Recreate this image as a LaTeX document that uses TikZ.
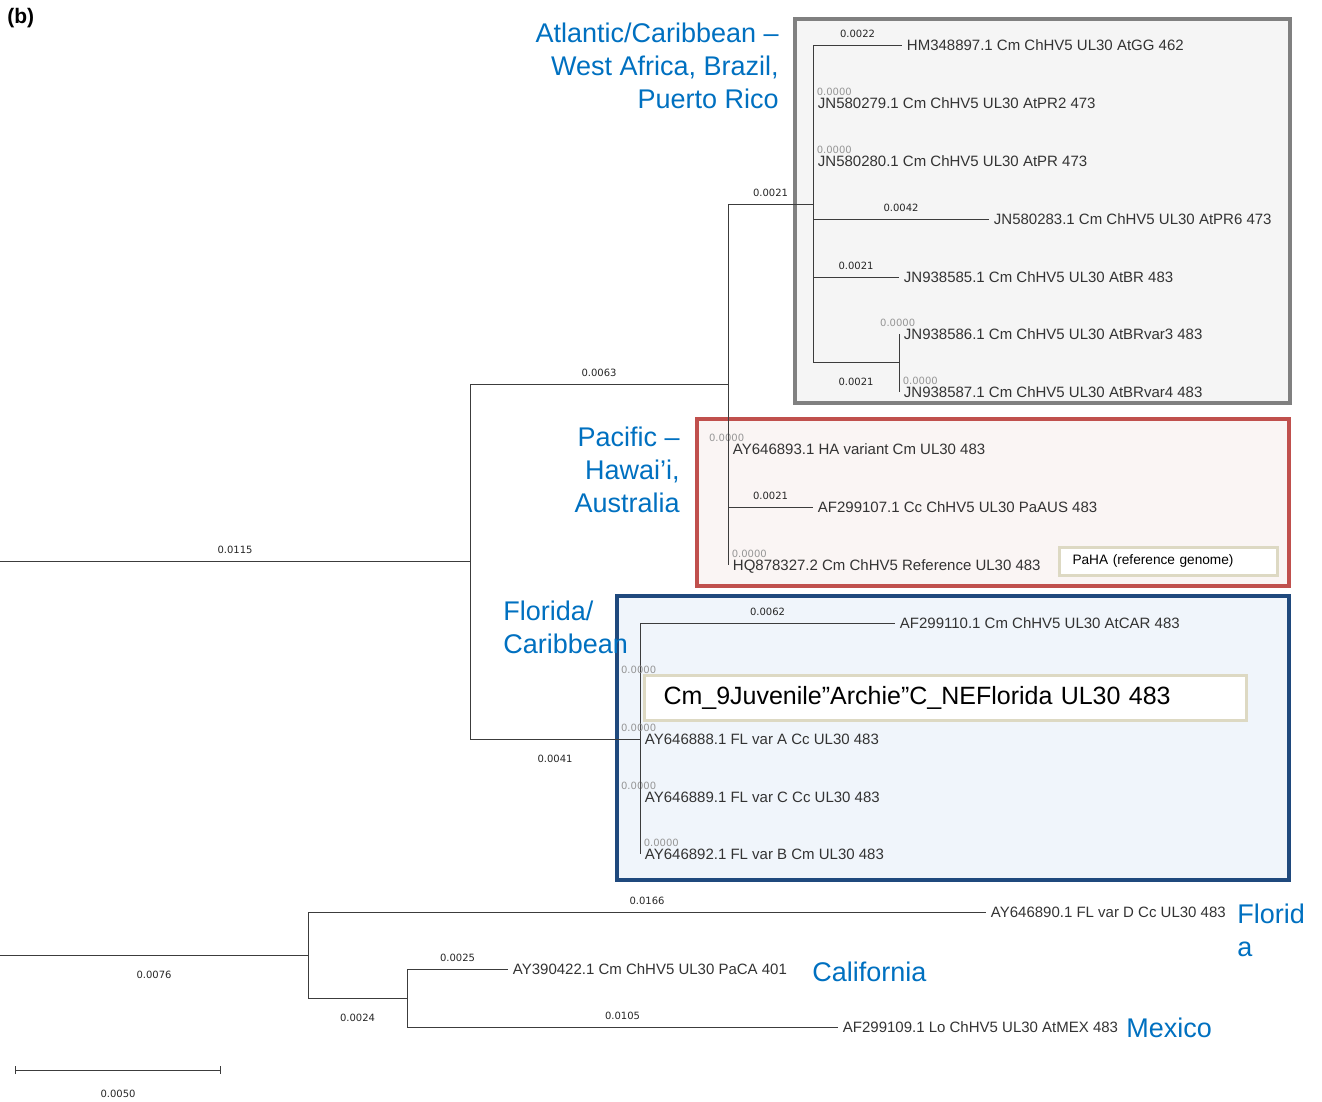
\documentclass[tikz,border=0pt]{standalone}
\usepackage{fontspec}
\setmainfont{Liberation Sans}
\newfontfamily\numfont{DejaVu Sans}
\usetikzlibrary{arrows.meta,positioning}
\definecolor{treeline}{RGB}{60,60,60}
\definecolor{zerogrey}{RGB}{150,150,150}
\definecolor{atlfill}{RGB}{245,245,245}
\definecolor{atlframe}{RGB}{128,128,128}
\definecolor{pacfill}{RGB}{250,245,244}
\definecolor{pacframe}{RGB}{192,80,77}
\definecolor{flafill}{RGB}{240,245,251}
\definecolor{flaframe}{RGB}{31,73,125}
\definecolor{tagframe}{RGB}{221,217,195}
\definecolor{regionblue}{RGB}{0,112,192}

\begin{document}
\begin{tikzpicture}[x=0.75pt, y=-0.75pt,
  br/.style={draw=treeline, line width=0.7pt},
  leaf/.style={anchor=west, inner xsep=3.5pt, inner ysep=0pt, text height=8pt, text depth=0pt,
    font=\fontsize{11.25}{13}\selectfont, text=black!80},
  blen/.style={font=\numfont\fontsize{7.5}{9}\selectfont, text=black!85, inner sep=0pt},
  zero/.style={blen, text=zerogrey, anchor=south west, yshift=5.5pt},
  zr/.style={zero, xshift=2.5pt},
  zl/.style={zero, xshift=-14.5pt},
  region/.style={font=\fontsize{20.25}{24.75}\selectfont, text=regionblue, inner sep=0pt},
  tag/.style={draw=tagframe, fill=white, line width=2.25pt, anchor=west, align=left, text=black}]
\useasboundingbox (0,0) rectangle (1322,1102);
\draw[atlframe, fill=atlfill, line width=3pt] (795,19) rectangle (1290,403);
\draw[pacframe, fill=pacfill, line width=3pt] (697,419) rectangle (1289,586);
\draw[flaframe, fill=flafill, line width=3pt] (617,596) rectangle (1289,880);
\node[anchor=west, inner sep=0pt, font=\bfseries\fontsize{15.75}{18}\selectfont] (panel) at (7,18) {(b)};

\coordinate (root1) at (0,561);
\coordinate (n1) at (470,561);
\coordinate (n2) at (728,384);
\coordinate (n3) at (813,204);
\coordinate (n4) at (899,362);
\coordinate (n5) at (640,739);
\coordinate (cmtip) at (640,681);
\coordinate (root2) at (0,955);
\coordinate (n6) at (308,955);
\coordinate (n7) at (407,998);

\node[leaf] (hm) at (902,45) {HM348897.1 Cm ChHV5 UL30 AtGG 462};
\node[leaf] (jnb) at (813,103) {JN580279.1 Cm ChHV5 UL30 AtPR2 473};
\node[leaf] (jnc) at (813,161) {JN580280.1 Cm ChHV5 UL30 AtPR 473};
\node[leaf] (jnd) at (989,219) {JN580283.1 Cm ChHV5 UL30 AtPR6 473};
\node[leaf] (jne) at (899,277) {JN938585.1 Cm ChHV5 UL30 AtBR 483};
\node[leaf] (jnf) at (899,334) {JN938586.1 Cm ChHV5 UL30 AtBRvar3 483};
\node[leaf] (jng) at (899,392) {JN938587.1 Cm ChHV5 UL30 AtBRvar4 483};
\node[leaf] (ha) at (728,449) {AY646893.1 HA variant Cm UL30 483};
\node[leaf] (aus) at (813,507) {AF299107.1 Cc ChHV5 UL30 PaAUS 483};
\node[leaf] (ref) at (728,565) {HQ878327.2 Cm ChHV5 Reference UL30 483};
\node[leaf] (car) at (895,623) {AF299110.1 Cm ChHV5 UL30 AtCAR 483};
\node[leaf] (flA) at (640,739) {AY646888.1 FL var A Cc UL30 483};
\node[leaf] (flC) at (640,797) {AY646889.1 FL var C Cc UL30 483};
\node[leaf] (flB) at (640,854) {AY646892.1 FL var B Cm UL30 483};
\node[leaf] (flD) at (986,912) {AY646890.1 FL var D Cc UL30 483};
\node[leaf] (paca) at (508,969) {AY390422.1 Cm ChHV5 UL30 PaCA 401};
\node[leaf] (mex) at (838,1027) {AF299109.1 Lo ChHV5 UL30 AtMEX 483};

\draw[br] (root1) -- (n1) node[blen, midway, above=5.5pt] {0.0115};
\draw[br] (n1) |- (n2) node[blen, pos=.75, above=5.5pt] {0.0063};
\draw[br] (n1) |- (n5) node[blen, pos=.75, below=12pt] {0.0041};
\draw[br] (n2) |- (n3) node[blen, pos=.75, above=5.5pt] {0.0021};
\draw[br] (n3) |- (hm.west) node[blen, pos=.75, above=5.5pt] {0.0022};
\draw[br] (n3) |- (jnb.west) node[zr] {0.0000};
\draw[br] (n3) |- (jnc.west) node[zr] {0.0000};
\draw[br] (n3) |- (jnd.west) node[blen, pos=.75, above=5.5pt] {0.0042};
\draw[br] (n3) |- (jne.west) node[blen, pos=.75, above=5.5pt] {0.0021};
\draw[br] (n3) |- (n4) node[blen, pos=.75, below=12pt] {0.0021};
\draw[br] (n4) |- (jnf.west) node[zl] {0.0000};
\draw[br] (n4) |- (jng.west) node[zr] {0.0000};
\draw[br] (n2) |- (ha.west) node[zl] {0.0000};
\draw[br] (n2) |- (aus.west) node[blen, pos=.75, above=5.5pt] {0.0021};
\draw[br] (n2) |- (ref.west) node[zr] {0.0000};
\draw[br] (n5) |- (car.west) node[blen, pos=.75, above=5.5pt] {0.0062};
\draw[br] (n5) |- (cmtip) node[zl] {0.0000};
\draw[br] (n5) |- (flA.west) node[zl] {0.0000};
\draw[br] (n5) |- (flC.west) node[zl] {0.0000};
\draw[br] (n5) |- (flB.west) node[zr] {0.0000};
\draw[br] (root2) -- (n6) node[blen, midway, below=12pt] {0.0076};
\draw[br] (n6) |- (flD.west) node[blen, pos=.75, above=5.5pt] {0.0166};
\draw[br] (n6) |- (n7) node[blen, pos=.75, below=12pt] {0.0024};
\draw[br] (n7) |- (paca.west) node[blen, pos=.75, above=5.5pt] {0.0025};
\draw[br] (n7) |- (mex.west) node[blen, pos=.75, above=5.5pt] {0.0105};

\node[tag, text width=423pt, inner xsep=14.25pt, minimum height=33.75pt,
  font=\fontsize{18.75}{21}\selectfont] (cm9) at (643,697.5) {Cm\_9Juvenile”Archie”C\_NEFlorida UL30 483};
\node[tag, text width=144pt, inner xsep=9.75pt, minimum height=21pt,
  font=\fontsize{10.25}{12}\selectfont] (paha) at (1058,561) {PaHA (reference genome)};

\node[region, anchor=east, align=right] (atl) at (779,66) {Atlantic/Caribbean –\\West Africa, Brazil,\\Puerto Rico};
\node[region, anchor=east, align=right] (pac) at (680,470) {Pacific –\\Hawai’i,\\Australia};
\node[region, anchor=west, align=left] (fla) at (503,627.5) {Florida/\\Caribbean};
\node[region, anchor=west] (cal) at (812,972) {California};
\node[region, anchor=west] (mexlab) at (1126,1028) {Mexico};
\node[region, anchor=west, align=left] (flo) at (1237,930.5) {Florid\\a};

\coordinate (sbl) at (15,1070);
\coordinate (sbr) at (221,1070);
\draw[br, {Bar[width=6pt]}-{Bar[width=6pt]}] (sbl) -- (sbr) node[blen, midway, below=15pt] (sbtext) {0.0050};
\end{tikzpicture}
\end{document}
